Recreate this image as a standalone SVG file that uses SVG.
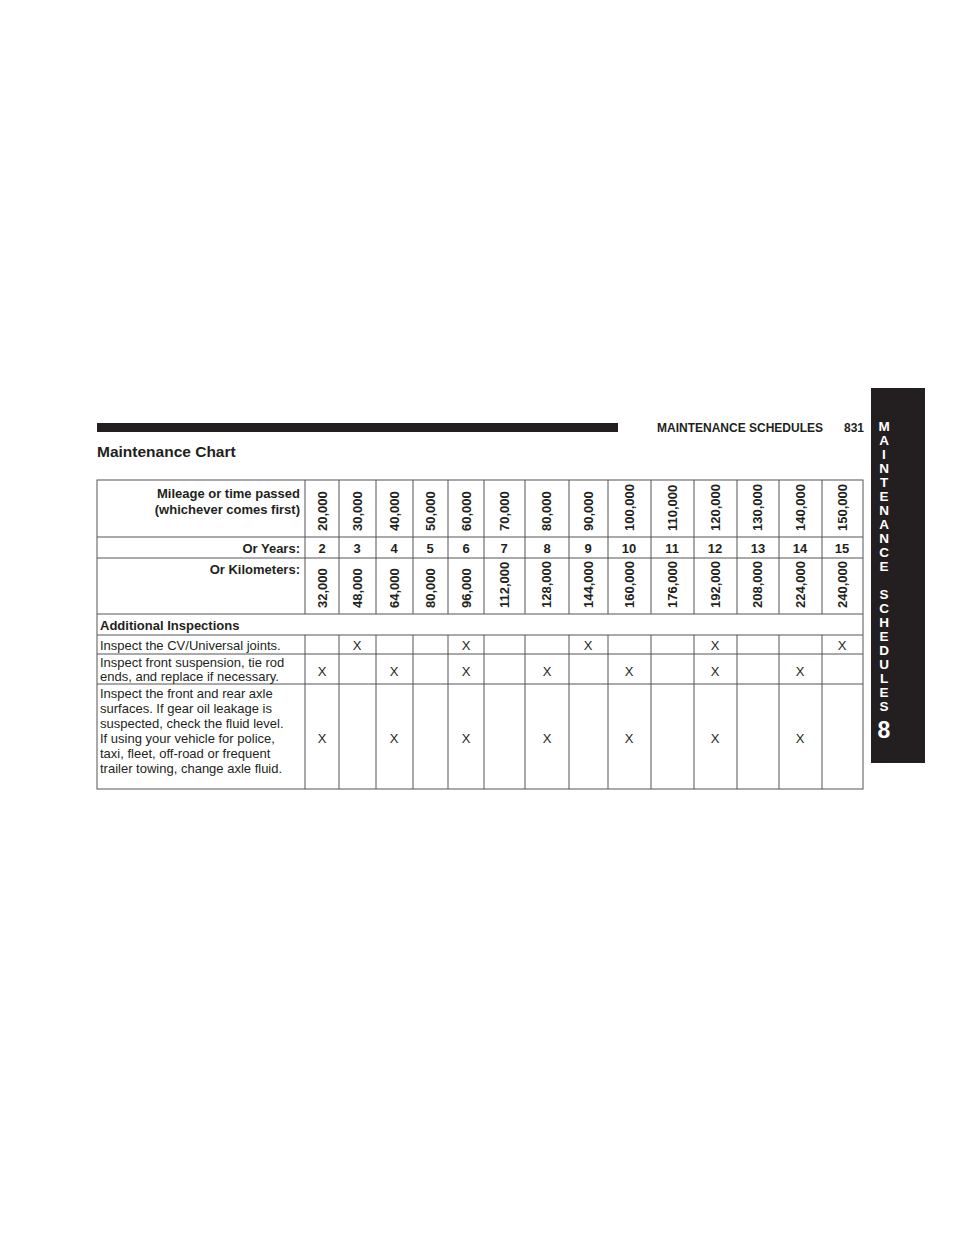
<svg xmlns="http://www.w3.org/2000/svg" width="960" height="1242" viewBox="0 0 960 1242">
<style>
text{font-family:"Liberation Sans",Arial,sans-serif;fill:#231f20}
.b{font-weight:bold;font-size:13px}
.r{font-size:13px}
.v{font-weight:bold;font-size:13px;text-anchor:start}
.c{text-anchor:middle}
.g{stroke:#555;stroke-width:1;fill:none}
.tab{fill:#fff;font-weight:bold;font-size:13.5px;text-anchor:middle}
</style>
<rect width="960" height="1242" fill="#fff"/>
<rect x="97" y="423" width="521" height="9" fill="#231f20"/>
<text x="657" y="432" class="b" style="font-size:12px">MAINTENANCE SCHEDULES</text>
<text x="864" y="432" class="b" style="font-size:12px" text-anchor="end">831</text>
<text x="97" y="457" style="font-weight:bold;font-size:15.5px">Maintenance Chart</text>
<g id="tab">
<rect x="871" y="388" width="54" height="375" fill="#231f20"/>
<g>
<text x="884" y="431" class="tab">M</text><text x="884" y="445" class="tab">A</text><text x="884" y="459" class="tab">I</text><text x="884" y="473" class="tab">N</text><text x="884" y="487" class="tab">T</text><text x="884" y="501" class="tab">E</text><text x="884" y="515" class="tab">N</text><text x="884" y="529" class="tab">A</text><text x="884" y="543" class="tab">N</text><text x="884" y="557" class="tab">C</text><text x="884" y="571" class="tab">E</text>
<text x="884" y="599" class="tab">S</text><text x="884" y="613" class="tab">C</text><text x="884" y="627" class="tab">H</text><text x="884" y="641" class="tab">E</text><text x="884" y="655" class="tab">D</text><text x="884" y="669" class="tab">U</text><text x="884" y="683" class="tab">L</text><text x="884" y="697" class="tab">E</text><text x="884" y="711" class="tab">S</text>
<text x="884" y="738" class="tab" style="font-size:23px">8</text>
</g>
</g>
<g id="table">
<rect x="97" y="480" width="766" height="309" class="g"/>
<path class="g" d="M97 537H863M97 558H863M97 614H863M97 635H863M97 654H863M97 684H863"/>
<path class="g" d="M305 480V614M339 480V614M376 480V614M413 480V614M448 480V614M484 480V614M525 480V614M569 480V614M608 480V614M651 480V614M694 480V614M737 480V614M779 480V614M822 480V614"/>
<path class="g" d="M305 635V789M339 635V789M376 635V789M413 635V789M448 635V789M484 635V789M525 635V789M569 635V789M608 635V789M651 635V789M694 635V789M737 635V789M779 635V789M822 635V789"/>
<text x="300" y="498" class="b" text-anchor="end">Mileage or time passed</text>
<text x="300" y="514" class="b" text-anchor="end">(whichever comes first)</text>
<text x="300" y="553" class="b" text-anchor="end">Or Years:</text>
<text x="300" y="574" class="b" text-anchor="end">Or Kilometers:</text>
<g>
<text class="v" transform="translate(327,531) rotate(-90)">20,000</text>
<text class="v" transform="translate(362,531) rotate(-90)">30,000</text>
<text class="v" transform="translate(399,531) rotate(-90)">40,000</text>
<text class="v" transform="translate(435,531) rotate(-90)">50,000</text>
<text class="v" transform="translate(471,531) rotate(-90)">60,000</text>
<text class="v" transform="translate(509,531) rotate(-90)">70,000</text>
<text class="v" transform="translate(551,531) rotate(-90)">80,000</text>
<text class="v" transform="translate(593,531) rotate(-90)">90,000</text>
<text class="v" transform="translate(634,531) rotate(-90)">100,000</text>
<text class="v" transform="translate(677,531) rotate(-90)">110,000</text>
<text class="v" transform="translate(720,531) rotate(-90)">120,000</text>
<text class="v" transform="translate(762,531) rotate(-90)">130,000</text>
<text class="v" transform="translate(805,531) rotate(-90)">140,000</text>
<text class="v" transform="translate(847,531) rotate(-90)">150,000</text>
<text class="v" transform="translate(327,608) rotate(-90)">32,000</text>
<text class="v" transform="translate(362,608) rotate(-90)">48,000</text>
<text class="v" transform="translate(399,608) rotate(-90)">64,000</text>
<text class="v" transform="translate(435,608) rotate(-90)">80,000</text>
<text class="v" transform="translate(471,608) rotate(-90)">96,000</text>
<text class="v" transform="translate(509,608) rotate(-90)">112,000</text>
<text class="v" transform="translate(551,608) rotate(-90)">128,000</text>
<text class="v" transform="translate(593,608) rotate(-90)">144,000</text>
<text class="v" transform="translate(634,608) rotate(-90)">160,000</text>
<text class="v" transform="translate(677,608) rotate(-90)">176,000</text>
<text class="v" transform="translate(720,608) rotate(-90)">192,000</text>
<text class="v" transform="translate(762,608) rotate(-90)">208,000</text>
<text class="v" transform="translate(805,608) rotate(-90)">224,000</text>
<text class="v" transform="translate(847,608) rotate(-90)">240,000</text>
</g>
<g>
<text x="322" y="553" class="b c">2</text><text x="357" y="553" class="b c">3</text><text x="394" y="553" class="b c">4</text><text x="430" y="553" class="b c">5</text><text x="466" y="553" class="b c">6</text><text x="504" y="553" class="b c">7</text><text x="547" y="553" class="b c">8</text><text x="588" y="553" class="b c">9</text><text x="629" y="553" class="b c">10</text><text x="672" y="553" class="b c">11</text><text x="715" y="553" class="b c">12</text><text x="758" y="553" class="b c">13</text><text x="800" y="553" class="b c">14</text><text x="842" y="553" class="b c">15</text>
</g>
<text x="100" y="630" class="b">Additional Inspections</text>
<text x="100" y="650" class="r">Inspect the CV/Universal joints.</text>
<text x="100" y="667" class="r">Inspect front suspension, tie rod</text>
<text x="100" y="681" class="r">ends, and replace if necessary.</text>
<text x="100" y="698" class="r">Inspect the front and rear axle</text>
<text x="100" y="713" class="r">surfaces. If gear oil leakage is</text>
<text x="100" y="728" class="r">suspected, check the fluid level.</text>
<text x="100" y="743" class="r">If using your vehicle for police,</text>
<text x="100" y="758" class="r">taxi, fleet, off-road or frequent</text>
<text x="100" y="773" class="r">trailer towing, change axle fluid.</text>
<g>
<text x="357" y="650" class="r c">X</text><text x="466" y="650" class="r c">X</text><text x="588" y="650" class="r c">X</text><text x="715" y="650" class="r c">X</text><text x="842" y="650" class="r c">X</text>
<text x="322" y="676" class="r c">X</text><text x="394" y="676" class="r c">X</text><text x="466" y="676" class="r c">X</text><text x="547" y="676" class="r c">X</text><text x="629" y="676" class="r c">X</text><text x="715" y="676" class="r c">X</text><text x="800" y="676" class="r c">X</text>
<text x="322" y="743" class="r c">X</text><text x="394" y="743" class="r c">X</text><text x="466" y="743" class="r c">X</text><text x="547" y="743" class="r c">X</text><text x="629" y="743" class="r c">X</text><text x="715" y="743" class="r c">X</text><text x="800" y="743" class="r c">X</text>
</g>
</g>
</svg>
